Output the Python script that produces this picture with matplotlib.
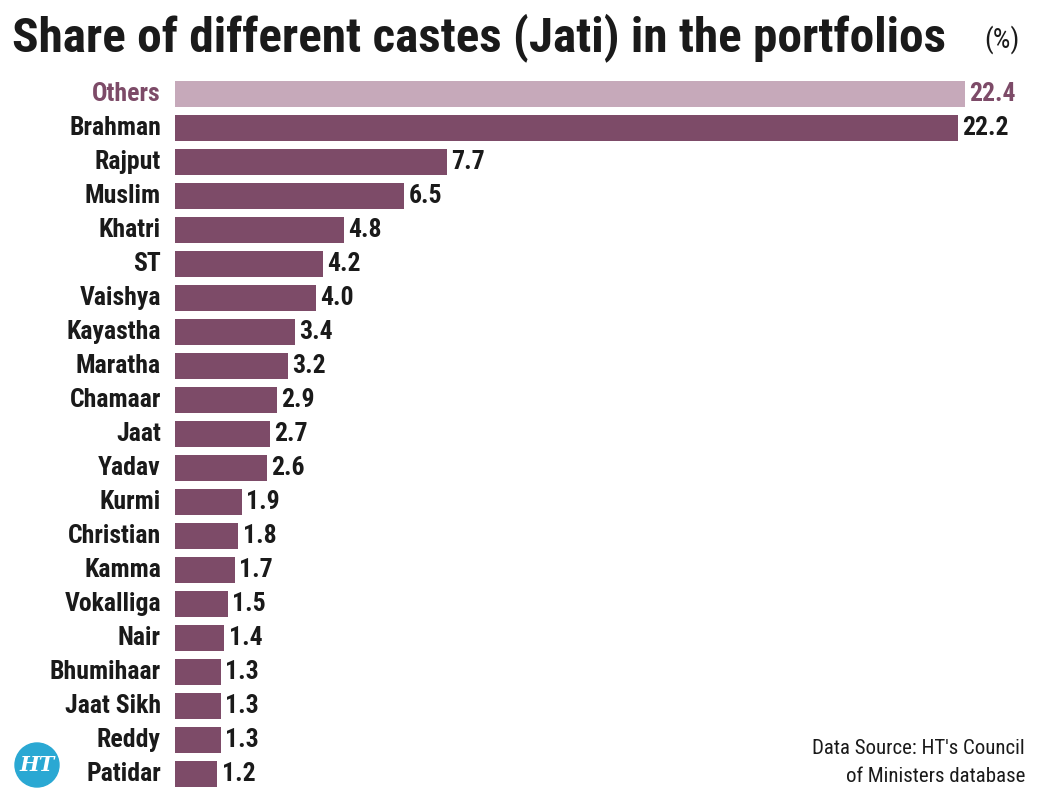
import matplotlib
matplotlib.use("Agg")
import matplotlib.pyplot as plt
from matplotlib.patches import Ellipse

categories = ["Others", "Brahman", "Rajput", "Muslim", "Khatri", "ST", "Vaishya",
              "Kayastha", "Maratha", "Chamaar", "Jaat", "Yadav", "Kurmi", "Christian",
              "Kamma", "Vokalliga", "Nair", "Bhumihaar", "Jaat Sikh", "Reddy", "Patidar"]
values = [22.4, 22.2, 7.7, 6.5, 4.8, 4.2, 4.0, 3.4, 3.2, 2.9, 2.7, 2.6, 1.9, 1.8,
          1.7, 1.5, 1.4, 1.3, 1.3, 1.3, 1.2]
value_labels = ["22.4", "22.2", "7.7", "6.5", "4.8", "4.2", "4.0", "3.4", "3.2", "2.9",
                "2.7", "2.6", "1.9", "1.8", "1.7", "1.5", "1.4", "1.3", "1.3", "1.3", "1.2"]

DARK = "#7d4b68"
LIGHT = "#c6a9ba"
TEXT = "#1a1a1a"

FAM = ["Liberation Sans Narrow", "DejaVu Sans Condensed", "Roboto Condensed", "DejaVu Sans"]
plt.rcParams['font.family'] = FAM

fig = plt.figure(figsize=(10.41, 8.0), dpi=100)
ax = fig.add_axes([175/1041, 1 - 791/800, (965-175)/1041, (791-77)/800])

y = list(range(len(categories)))
colors = [LIGHT] + [DARK] * (len(categories) - 1)
ax.barh(y, values, height=0.76, color=colors, edgecolor="none")
ax.set_xlim(0, 22.4)
ax.set_ylim(len(categories) - 0.5, -0.5)
ax.axis("off")

for i, (c, v, lab) in enumerate(zip(categories, values, value_labels)):
    col = DARK if i == 0 else TEXT
    ax.text(-0.4, i, c, ha="right", va="center", fontsize=18.5, fontweight="bold",
            color=col, clip_on=False)
    ax.text(v + 0.12, i, lab, ha="left", va="center", fontsize=18.5, fontweight="bold",
            color=col, clip_on=False)

fig.text(12/1041, 1 - 38/800, "Share of different castes (Jati) in the portfolios",
         fontsize=35.5, fontweight="bold", color=TEXT, ha="left", va="center")
fig.text(1020/1041, 1 - 40/800, "(%)", fontsize=20, color=TEXT, ha="right", va="center")

fig.text(1025/1041, 1 - 748/800, "Data Source: HT's Council", fontsize=15,
         color=TEXT, ha="right", va="center")
fig.text(1025/1041, 1 - 776/800, "of Ministers database", fontsize=15,
         color=TEXT, ha="right", va="center")

# HT logo
cx, cy, r = 37, 765, 22
fig.patches.append(Ellipse((cx/1041, 1 - cy/800), 2*r/1041, 2*r/800,
                           transform=fig.transFigure, color="#2aa8d3", zorder=5))
fig.text(cx/1041, 1 - cy/800, "HT", fontsize=15, fontweight="bold", style="italic",
         family=["DejaVu Serif"], color="white", ha="center", va="center", zorder=6)

fig.savefig("out.png", dpi=100, facecolor="white")
